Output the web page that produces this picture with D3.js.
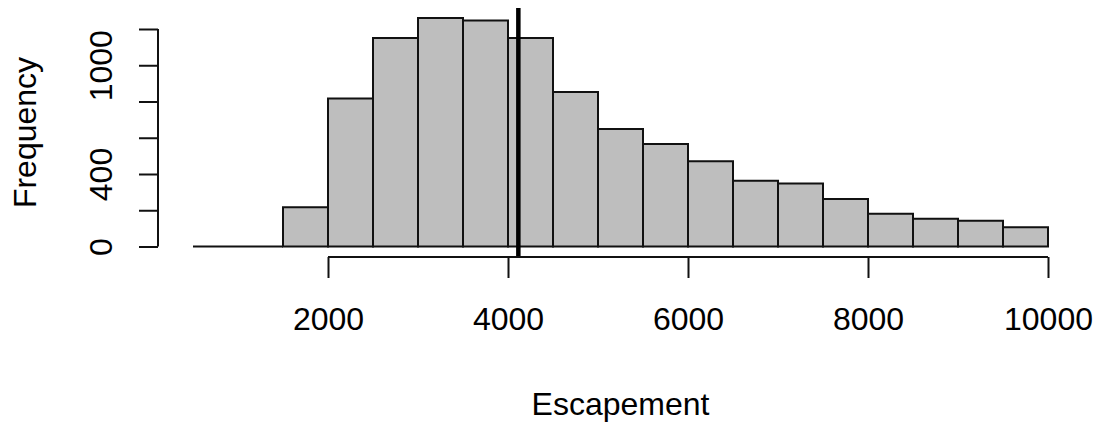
<!DOCTYPE html>
<html>
<head>
<meta charset="utf-8">
<script src="https://cdn.jsdelivr.net/npm/d3@7"></script>
<style>
  html, body { margin: 0; padding: 0; background: #ffffff; }
  svg { display: block; }
  text { font-family: "Liberation Sans", Arial, sans-serif; fill: #000; }
</style>
</head>
<body>
<div id="chart"></div>
<script>
// Histogram of escapement, 500-wide bins
const binStarts = [500, 1000, 1500, 2000, 2500, 3000, 3500, 4000, 4500, 5000,
                   5500, 6000, 6500, 7000, 7500, 8000, 8500, 9000, 9500];
const binWidth = 500;
const counts = [0, 0, 216, 817, 1151, 1261, 1247, 1151, 852, 648,
                565, 471, 363, 347, 262, 181, 153, 142, 106];

// Reference line (target escapement)
const refValue = 4115;

// Axis ticks
const xTicks = [2000, 4000, 6000, 8000, 10000];
const yTicks = [0, 200, 400, 600, 800, 1000, 1200];
const yTickLabels = [0, 400, 1000];

const xLabel = "Escapement";
const yLabel = "Frequency";

const W = 1097, H = 430;
const svg = d3.select("#chart").append("svg")
  .attr("width", W).attr("height", H);

const x = d3.scaleLinear().domain([0, 10000]).range([148, 1048]);
const y = d3.scaleLinear().domain([0, 1200]).range([246.5, 29]);

const plotTop = 8, plotBottom = 257;
const fontSize = 32;
const axisColor = "#111";

// Bars (paths so that empty bins still show as a baseline)
svg.append("g")
  .selectAll("path")
  .data(binStarts.map((s, i) => ({ s, c: counts[i] })))
  .join("path")
  .attr("d", d => {
    const x0 = x(d.s), x1 = x(d.s + binWidth);
    const y0 = y(0), y1 = y(d.c);
    return `M${x0},${y0}V${y1}H${x1}V${y0}Z`;
  })
  .attr("fill", "#bebebe")
  .attr("stroke", axisColor)
  .attr("stroke-width", 2);

// Vertical reference line
svg.append("line")
  .attr("x1", x(refValue)).attr("x2", x(refValue))
  .attr("y1", plotTop).attr("y2", plotBottom)
  .attr("stroke", "#000")
  .attr("stroke-width", 4.5);

// X axis: the axis line only runs between the first and last tick
const xAxis = d3.axisBottom(x)
  .tickValues(xTicks)
  .tickSize(21)
  .tickSizeOuter(0)
  .tickPadding(0)
  .tickFormat(d3.format("d"));

const gx = svg.append("g")
  .attr("transform", `translate(0,${plotBottom})`)
  .call(xAxis);
gx.select(".domain")
  .attr("d", `M${x(xTicks[0])},0H${x(xTicks[xTicks.length - 1])}`)
  .attr("stroke", axisColor).attr("stroke-width", 2);
gx.selectAll(".tick line").attr("stroke", axisColor).attr("stroke-width", 2);
gx.selectAll(".tick text")
  .attr("y", 330 - plotBottom)
  .attr("dy", null)
  .style("font-size", fontSize + "px")
  .style("font-family", '"Liberation Sans", Arial, sans-serif')
  .attr("fill", "#000");

// Y axis
const yAxis = d3.axisLeft(y)
  .tickValues(yTicks)
  .tickSize(19)
  .tickSizeOuter(0)
  .tickFormat(d => yTickLabels.includes(d) ? String(d) : "");

const gy = svg.append("g")
  .attr("transform", "translate(158,0)")
  .call(yAxis);
gy.select(".domain")
  .attr("d", `M0,${y(yTicks[0])}V${y(yTicks[yTicks.length - 1])}`)
  .attr("stroke", axisColor).attr("stroke-width", 2);
gy.selectAll(".tick line").attr("stroke", axisColor).attr("stroke-width", 2);
gy.selectAll(".tick text")
  .attr("x", null).attr("dy", null)
  .attr("transform", `translate(${112 - 158},0) rotate(-90)`)
  .attr("text-anchor", "middle")
  .style("font-size", fontSize + "px")
  .style("font-family", '"Liberation Sans", Arial, sans-serif')
  .attr("fill", "#000");

// Axis titles
svg.append("text")
  .attr("x", (x(120) + x(10380)) / 2)
  .attr("y", 415)
  .attr("text-anchor", "middle")
  .style("font-size", fontSize + "px")
  .text(xLabel);

svg.append("text")
  .attr("transform", `translate(36,${(plotTop + plotBottom) / 2}) rotate(-90)`)
  .attr("text-anchor", "middle")
  .style("font-size", fontSize + "px")
  .text(yLabel);
</script>
</body>
</html>
